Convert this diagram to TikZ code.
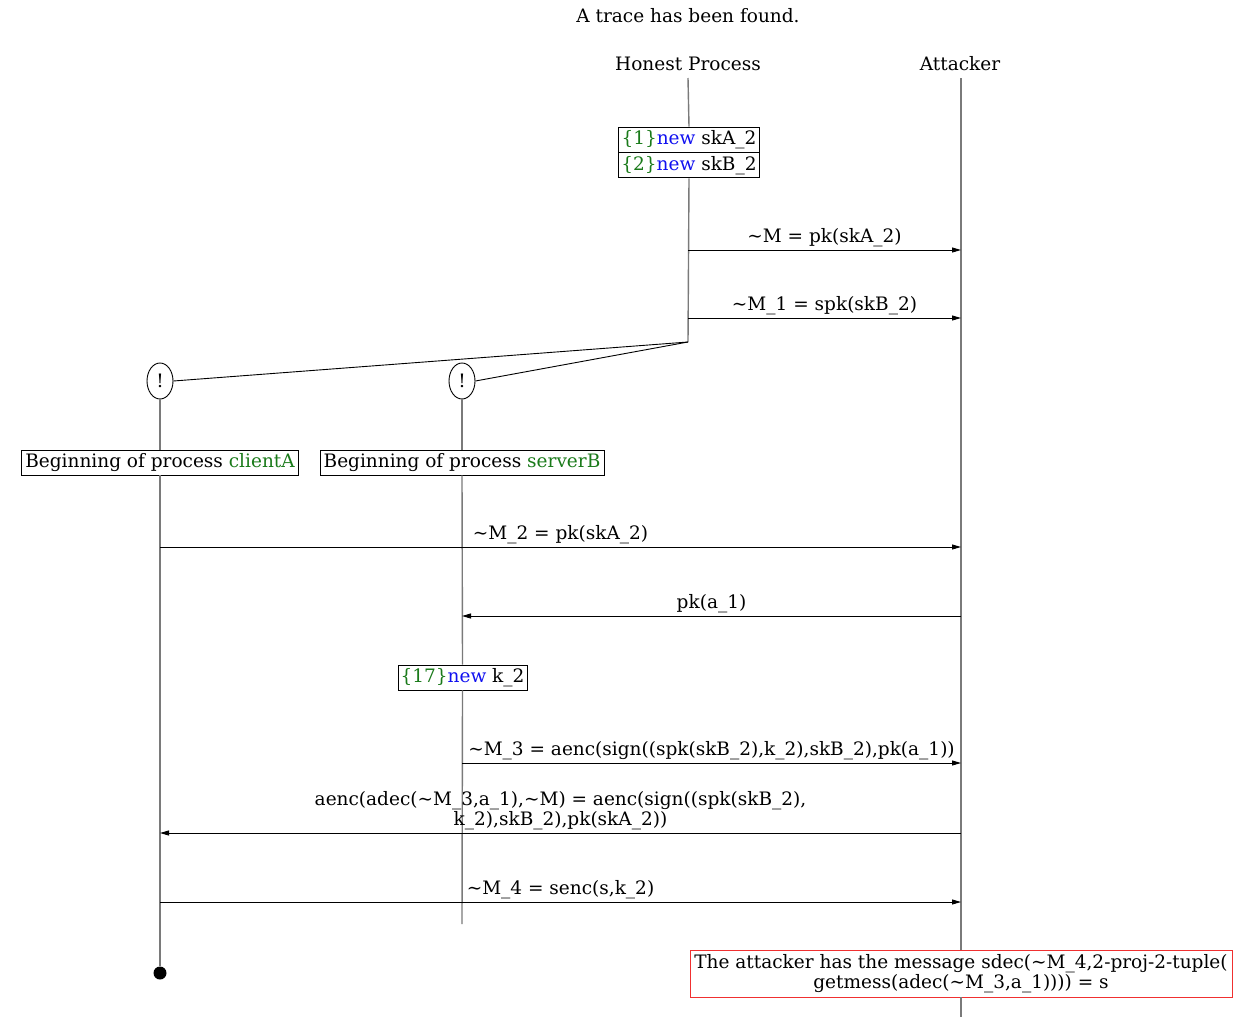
\documentclass[tikz,border=0pt]{standalone}
\usepackage{fontspec}
\setmainfont{DejaVu Serif}
\usetikzlibrary{shapes.geometric,arrows.meta}
\definecolor{lifegray}{HTML}{7A7A7A}
\definecolor{idgreen}{HTML}{1A7A1A}
\definecolor{kwblue}{HTML}{1010F0}
\definecolor{goalred}{HTML}{F03030}
\newcommand{\tid}[1]{\textcolor{idgreen}{\{#1\}}}
\newcommand{\kw}[1]{\textcolor{kwblue}{#1}}
\begin{document}
\begin{tikzpicture}[x=1pt,y=-1pt,
  every node/.style={font=\fontsize{18.5}{19.5}\selectfont},
  lbl/.style={inner sep=0pt},
  life/.style={draw=lifegray,line width=1.4pt},
  msg/.style={draw=black,line width=0.9pt,-{Triangle[length=9pt,width=5pt]}},
  evbox/.style={draw=black,line width=0.9pt,rectangle,inner xsep=2pt,inner ysep=0pt,minimum height=25pt},
  bang/.style={draw=black,line width=0.9pt,ellipse,minimum width=26pt,minimum height=36pt,inner sep=0pt},
  msglbl/.style={midway,above=3pt,inner sep=0pt,align=center},
  goalbox/.style={draw=goalred,line width=0.9pt,rectangle,align=center,inner xsep=2pt,inner ysep=0pt,minimum width=542pt,minimum height=47pt}]
\useasboundingbox (0,0) rectangle (1253,1017);

% headers
\node[lbl] (title) at (688,16) {A trace has been found.};
\node[lbl] (hp) at (688,64) {Honest Process};
\node[lbl] (att) at (960,64) {Attacker};

% honest process: initial names
\coordinate (hptop) at (688,78);
\node[evbox,minimum width=141pt] (new1) at (689,139.5) {\tid{1}\kw{new} skA\_2};
\node[evbox,minimum width=141pt,anchor=north] (new2) at (new1.south) {\tid{2}\kw{new} skB\_2};
\coordinate (hpend) at (688,342);
\draw[life] (hptop) -- (new1.north);
\draw[life] (new2.south) -- (hpend);

% attacker lifeline
\coordinate (attop) at (961,78);
\node[goalbox] (goal) at (961,973.5) {The attacker has the message sdec(\textasciitilde M\_4,2-proj-2-tuple(\\getmess(adec(\textasciitilde M\_3,a\_1)))) = s};
\coordinate (atbot) at (961,1017);
\draw[life] (attop) -- (goal.north);
\draw[life] (goal.south) -- (atbot);

% replication
\node[bang] (bang1) at (160,381) {!};
\node[bang] (bang2) at (462,381) {!};
\draw[line width=0.9pt] (hpend) -- (bang1.east);
\draw[line width=0.9pt] (hpend) -- (bang2.east);

% process starts
\node[evbox,minimum width=277pt] (begA) at (160,462.5) {Beginning of process \textcolor{idgreen}{clientA}};
\node[evbox,minimum width=284pt] (begB) at (462,462.5) {Beginning of process \textcolor{idgreen}{serverB}};
\draw[life] (bang1.south) -- (begA.north);
\draw[life] (bang2.south) -- (begB.north);

% clientA lifeline
\node[circle,fill=black,minimum size=13pt,inner sep=0pt] (endA) at (160,973) {};
\draw[life] (begA.south) -- (endA.north);

% serverB lifeline
\node[evbox,minimum width=129pt] (new17) at (462.5,677.5) {\tid{17}\kw{new} k\_2};
\coordinate (endB) at (462,924);
\draw[life] (begB.south) -- (new17.north);
\draw[life] (new17.south) -- (endB);

% message points on lifelines
\coordinate (h1) at (688,250);  \coordinate (t1) at (961,250);
\coordinate (h2) at (688,318);  \coordinate (t2) at (961,318);
\coordinate (c3) at (160,547);  \coordinate (t3) at (961,547);
\coordinate (t4) at (961,616);  \coordinate (s4) at (462,616);
\coordinate (s5) at (462,763);  \coordinate (t5) at (961,763);
\coordinate (t6) at (961,833);  \coordinate (c6) at (160,833);
\coordinate (c7) at (160,902);  \coordinate (t7) at (961,902);

\draw[msg] (h1) -- (t1) node[msglbl] {\textasciitilde M = pk(skA\_2)};
\draw[msg] (h2) -- (t2) node[msglbl] {\textasciitilde M\_1 = spk(skB\_2)};
\draw[msg] (c3) -- (t3) node[msglbl] {\textasciitilde M\_2 = pk(skA\_2)};
\draw[msg] (t4) -- (s4) node[msglbl] {pk(a\_1)};
\draw[msg] (s5) -- (t5) node[msglbl] {\textasciitilde M\_3 = aenc(sign((spk(skB\_2),k\_2),skB\_2),pk(a\_1))};
\draw[msg] (t6) -- (c6) node[msglbl] {aenc(adec(\textasciitilde M\_3,a\_1),\textasciitilde M) = aenc(sign((spk(skB\_2),\\k\_2),skB\_2),pk(skA\_2))};
\draw[msg] (c7) -- (t7) node[msglbl] {\textasciitilde M\_4 = senc(s,k\_2)};
\end{tikzpicture}
\end{document}
